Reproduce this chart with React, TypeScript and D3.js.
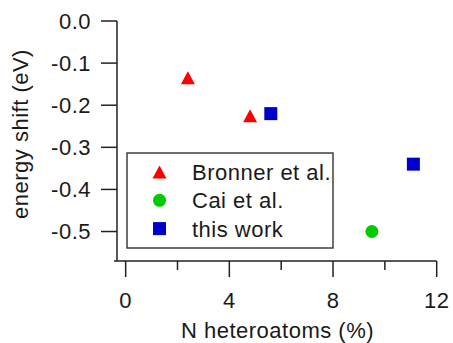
import React from "react";
import * as d3 from "d3";

const bronnerX = [2.4, 4.8];
const bronnerY = [-0.135, -0.225];
const caiX = [9.5];
const caiY = [-0.5];
const thisWorkX = [5.6, 11.1];
const thisWorkY = [-0.22, -0.34];

const xTicks = [0, 4, 8, 12];
const xMinorTicks = [2, 6, 10];
const yTicks = [0, -0.1, -0.2, -0.3, -0.4, -0.5];
const legendLabels = ["Bronner et al.", "Cai et al.", "this work"];

const W = 453;
const H = 343;
const FONT = "Arial, 'Liberation Sans', sans-serif";
const FS = 22;
const AX = "#222";

const x = d3.scaleLinear().domain([-0.45, 12]).range([114, 436.7]);
const y = d3.scaleLinear().domain([-0.57, 0]).range([261, 21]);
const yAxisX = 117;

function triPath(cx: number, cy: number, w: number, h: number) {
  const p = d3.path();
  p.moveTo(cx, cy - h / 2);
  p.lineTo(cx + w / 2, cy + h / 2);
  p.lineTo(cx - w / 2, cy + h / 2);
  p.closePath();
  return p.toString();
}

function Marker({ kind, cx, cy }: { kind: number; cx: number; cy: number }) {
  if (kind === 0) return <path d={triPath(cx, cy, 14, 13)} fill="#ff0000" />;
  if (kind === 1) return <circle cx={cx} cy={cy} r={6.5} fill="#00cc00" />;
  return <rect x={cx - 6.5} y={cy - 6.5} width={13} height={13} fill="#0000cc" />;
}

export default function App() {
  const series = [
    { xs: bronnerX, ys: bronnerY },
    { xs: caiX, ys: caiY },
    { xs: thisWorkX, ys: thisWorkY },
  ];
  const legX = 127;
  const legY = 153;
  const rowH = 28.3;
  return (
    <svg
      width={W}
      height={H}
      style={{ position: "absolute", left: 0, top: 0, background: "#fff" }}
      fontFamily={FONT}
      fontSize={FS}
      letterSpacing={0.5}
    >
      {/* axes */}
      <line x1={yAxisX} x2={yAxisX} y1={y(0)} y2={y(-0.57)} stroke={AX} strokeWidth={1.5} />
      <line x1={x(-0.45)} x2={x(12)} y1={y(-0.57)} y2={y(-0.57)} stroke={AX} strokeWidth={1.5} />
      {yTicks.map((t) => (
        <g key={"y" + t}>
          <line x1={yAxisX - 16} x2={yAxisX} y1={y(t)} y2={y(t)} stroke={AX} strokeWidth={1.5} />
          <text x={91} y={y(t)} dy="0.36em" textAnchor="end" fill="#1a1a1a">
            {t === 0 ? "0.0" : d3.format(".1f")(t).replace("−", "-")}
          </text>
        </g>
      ))}
      {xTicks.map((t) => (
        <g key={"x" + t}>
          <line x1={x(t)} x2={x(t)} y1={y(-0.57)} y2={y(-0.57) + 16} stroke={AX} strokeWidth={1.5} />
          <text x={x(t)} y={308} textAnchor="middle" fill="#1a1a1a">
            {t}
          </text>
        </g>
      ))}
      {xMinorTicks.map((t) => (
        <line key={"m" + t} x1={x(t)} x2={x(t)} y1={y(-0.57)} y2={y(-0.57) + 9} stroke={AX} strokeWidth={1.5} />
      ))}
      <text x={277.5} y={337.5} textAnchor="middle" fill="#1a1a1a">
        N heteroatoms (%)
      </text>
      <text transform="translate(28,134) rotate(-90)" textAnchor="middle" fill="#1a1a1a">
        energy shift (eV)
      </text>

      {/* legend */}
      <rect x={legX} y={legY} width={206} height={95} fill="#fff" stroke="#333" strokeWidth={1.4} />
      {legendLabels.map((l, i) => (
        <g key={l}>
          <Marker kind={i} cx={159.5} cy={legY + 19 + i * rowH} />
          <text x={192} y={legY + 19 + i * rowH} dy="0.36em" fill="#1a1a1a">
            {l}
          </text>
        </g>
      ))}

      {/* data */}
      {series.map((s, k) =>
        s.xs.map((xv, i) => <Marker key={k + "-" + i} kind={k} cx={x(xv)} cy={y(s.ys[i])} />)
      )}
    </svg>
  );
}
